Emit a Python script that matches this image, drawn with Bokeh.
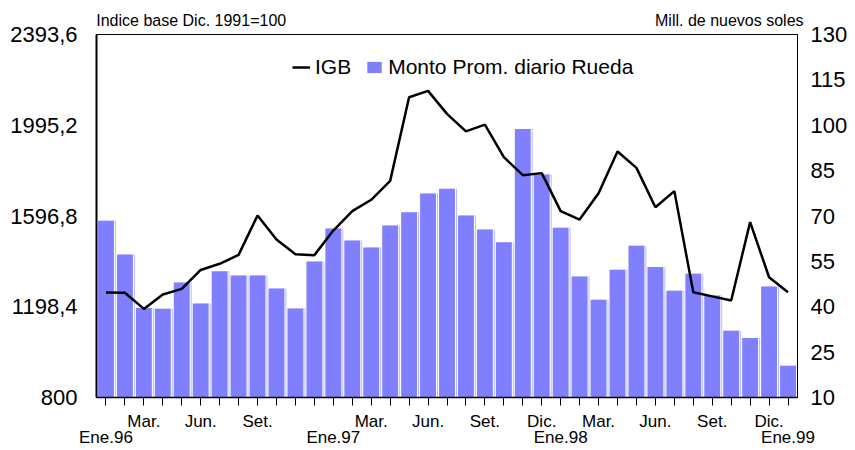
from bokeh.plotting import figure
from bokeh.models import (Range1d, LinearAxis, FixedTicker, Legend, LegendItem,
                          ColumnDataSource)
from bokeh.transform import dodge
from bokeh.embed import file_html
from bokeh.resources import INLINE

# ---------------- data ----------------
month_names = ["Ene", "Feb", "Mar", "Abr", "May", "Jun", "Jul", "Ago", "Set", "Oct", "Nov", "Dic"]
months = [f"{m}.{y}" for y in ("96", "97", "98") for m in month_names] + ["Ene.99"]

igb = [1261, 1260, 1189, 1252, 1277, 1360, 1387, 1426, 1599, 1494, 1429, 1425,
       1533, 1618, 1668, 1751, 2118, 2146, 2045, 1968, 1998, 1855, 1776, 1785,
       1618, 1581, 1697, 1880, 1808, 1635, 1706, 1262, 1244, 1226, 1570, 1328,
       1262]
monto = [68.4, 57.3, 39.6, 39.3, 48.0, 41.1, 51.7, 50.3, 50.3, 46.0, 39.4, 55.0,
         65.9, 61.9, 59.6, 66.9, 71.2, 77.4, 79.0, 70.2, 65.5, 61.3, 98.8, 83.7,
         66.1, 50.0, 42.3, 52.2, 60.2, 53.1, 45.3, 50.9, 43.7, 32.1, 29.7, 46.7,
         20.5]

left_ticks = [800, 1198.4, 1596.8, 1995.2, 2393.6]
left_tick_labels = ["800", "1198,4", "1596,8", "1995,2", "2393,6"]
right_ticks = [10, 25, 40, 55, 70, 85, 100, 115, 130]

row1_pos = [2, 5, 8, 14, 17, 20, 23, 26, 29, 32, 35]
row1_txt = ["Mar.", "Jun.", "Set.", "Mar.", "Jun.", "Set.", "Dic.",
            "Mar.", "Jun.", "Set.", "Dic."]
row2_pos = [0, 12, 24, 36]
row2_txt = ["Ene.96", "Ene.97", "Ene.98", "Ene.99"]

unit_titles = ["Indice base Dic. 1991=100", "Mill. de nuevos soles"]
unit_title_pos = [4.5, 32.9]   # placement of the two unit captions above the frame

FONT = "Liberation Sans"

x = list(range(len(months)))
src = ColumnDataSource(dict(x=x, month=months, igb=igb, monto=monto))

p = figure(width=855, height=450,
           x_range=Range1d(-0.5, len(months) - 0.5),
           y_range=Range1d(left_ticks[0], left_ticks[-1]),
           output_backend="svg", toolbar_location=None,
           x_axis_location=None, y_axis_location=None,
           min_border_left=96, min_border_right=58,
           min_border_top=34, min_border_bottom=53)
p.extra_y_ranges = {"monto": Range1d(right_ticks[0], right_ticks[-1])}
p.xgrid.visible = False
p.ygrid.visible = False
p.outline_line_color = "black"
p.outline_line_width = 1
p.background_fill_color = "white"
p.border_fill_color = "white"


def bare(ax):
    ax.major_tick_in = 0
    ax.minor_tick_out = 0
    ax.minor_tick_in = 0
    ax.major_label_text_font = FONT
    ax.major_label_text_color = "black"


# ---------------- axes ----------------
ly = LinearAxis(ticker=FixedTicker(ticks=left_ticks),
                major_label_overrides=dict(zip(left_ticks, left_tick_labels)))
bare(ly)
ly.major_tick_out = 0
ly.axis_line_width = 2
ly.axis_line_color = "black"
ly.major_label_standoff = 19
ly.major_label_text_font_size = "22px"
p.add_layout(ly, "left")

ry = LinearAxis(y_range_name="monto", ticker=FixedTicker(ticks=right_ticks))
bare(ry)
ry.major_tick_out = 0
ry.axis_line_color = "black"
ry.major_label_standoff = 13
ry.major_label_text_font_size = "22px"
p.add_layout(ry, "right")

ov1 = {i: "" for i in x}
ov1.update(dict(zip(row1_pos, row1_txt)))
bx1 = LinearAxis(ticker=FixedTicker(ticks=x), major_label_overrides=ov1)
bare(bx1)
bx1.major_tick_out = 8
bx1.axis_line_width = 1.5
bx1.axis_line_color = "black"
bx1.major_tick_line_color = "black"
bx1.major_label_standoff = 6
bx1.major_label_text_font_size = "17px"
p.add_layout(bx1, "below")

bx2 = LinearAxis(ticker=FixedTicker(ticks=row2_pos),
                 major_label_overrides=dict(zip(row2_pos, row2_txt)))
bare(bx2)
bx2.major_tick_out = 0
bx2.axis_line_color = None
bx2.major_label_standoff = -6
bx2.major_label_text_font_size = "17px"
p.add_layout(bx2, "below")

tx = LinearAxis(ticker=FixedTicker(ticks=unit_title_pos),
                major_label_overrides=dict(zip(unit_title_pos, unit_titles)))
bare(tx)
tx.major_tick_out = 0
tx.axis_line_color = None
tx.major_label_standoff = 6
tx.major_label_text_font_size = "16px"
p.add_layout(tx, "above")

# ---------------- bars ----------------
bw = 0.84
p.vbar(x=dodge("x", 0.105), top="monto", bottom=right_ticks[0], width=bw,
       source=src, fill_color="#b8b8ff", line_color=None, y_range_name="monto")
p.vbar(x=dodge("x", 0.053), top="monto", bottom=right_ticks[0], width=bw,
       source=src, fill_color="white", line_color=None, y_range_name="monto")
r_bar = p.vbar(x="x", top="monto", bottom=right_ticks[0], width=bw,
               source=src, fill_color="#8080ff", line_color=None,
               y_range_name="monto")

# ---------------- line ----------------
r_line = p.line("x", "igb", source=src, line_color="black", line_width=2.5)

# ---------------- legend ----------------
legend = Legend(items=[LegendItem(label="IGB", renderers=[r_line]),
                       LegendItem(label="Monto Prom. diario Rueda", renderers=[r_bar])],
                orientation="horizontal", location=(196, 318),
                border_line_color=None, background_fill_alpha=0,
                label_text_font=FONT, label_text_font_size="21px",
                label_text_color="black",
                glyph_width=18, glyph_height=14, spacing=14, label_standoff=5,
                padding=0, margin=0)
p.add_layout(legend, "center")

open("out.html", "w").write(file_html(p, INLINE))
